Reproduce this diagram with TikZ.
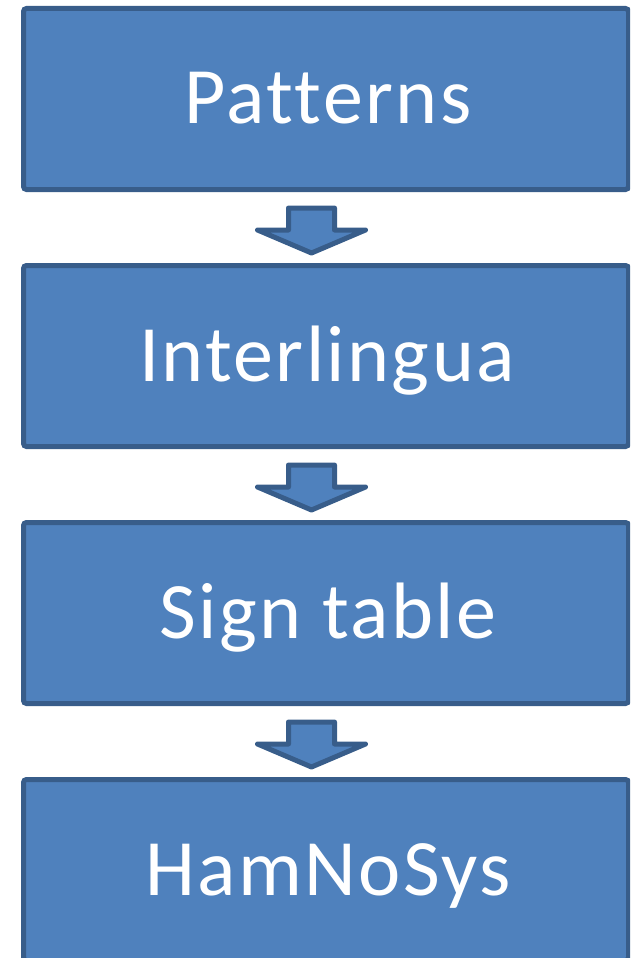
\documentclass[tikz,border=0pt]{standalone}
\usepackage{fontspec}
\setmainfont{Carlito}
\newfontfamily\labelfont[LetterSpace=3,Ligatures=NoCommon]{Carlito}
\definecolor{boxfill}{HTML}{4F81BD}
\definecolor{boxline}{HTML}{385D8A}
\tikzset{
  stagebox/.style={draw=boxline, fill=boxfill, line width=5pt, rounded corners=3pt,
    minimum width=605pt, minimum height=181pt, inner sep=0pt},
  stagelabel/.style={text=white, font=\labelfont\fontsize{80}{90}\selectfont, anchor=base, inner sep=0pt},
  blockarrow/.style={draw=boxline, fill=boxfill, line width=5pt, line join=round}
}
\begin{document}
\begin{tikzpicture}[x=1pt,y=-1pt]
\useasboundingbox (0,0) rectangle (630,958);
\clip (0,0) rectangle (630,958);
\node[stagebox] (b1) at (326,99) {};
\node[stagebox] (b2) at (326,356) {};
\node[stagebox] (b3) at (326,613) {};
\node[stagebox] (b4) at (326,870) {};
\node[stagelabel] (t1) at (328,123) {Patterns};
\node[stagelabel] (t2) at (327,381) {Interlingua};
\node[stagelabel] (t3) at (328,638) {Sign table};
\node[stagelabel] (t4) at (328,895) {HamNoSys};
\foreach \a in {b1,b2,b3}{
  \draw[blockarrow] ([xshift=-37.5pt,yshift=-16pt]\a.south) -- ++(46,0) -- ++(0,22) -- ++(31,0)
     -- ++(-54,23) -- ++(-54,-23) -- ++(31,0) -- cycle;
}
\end{tikzpicture}
\end{document}
